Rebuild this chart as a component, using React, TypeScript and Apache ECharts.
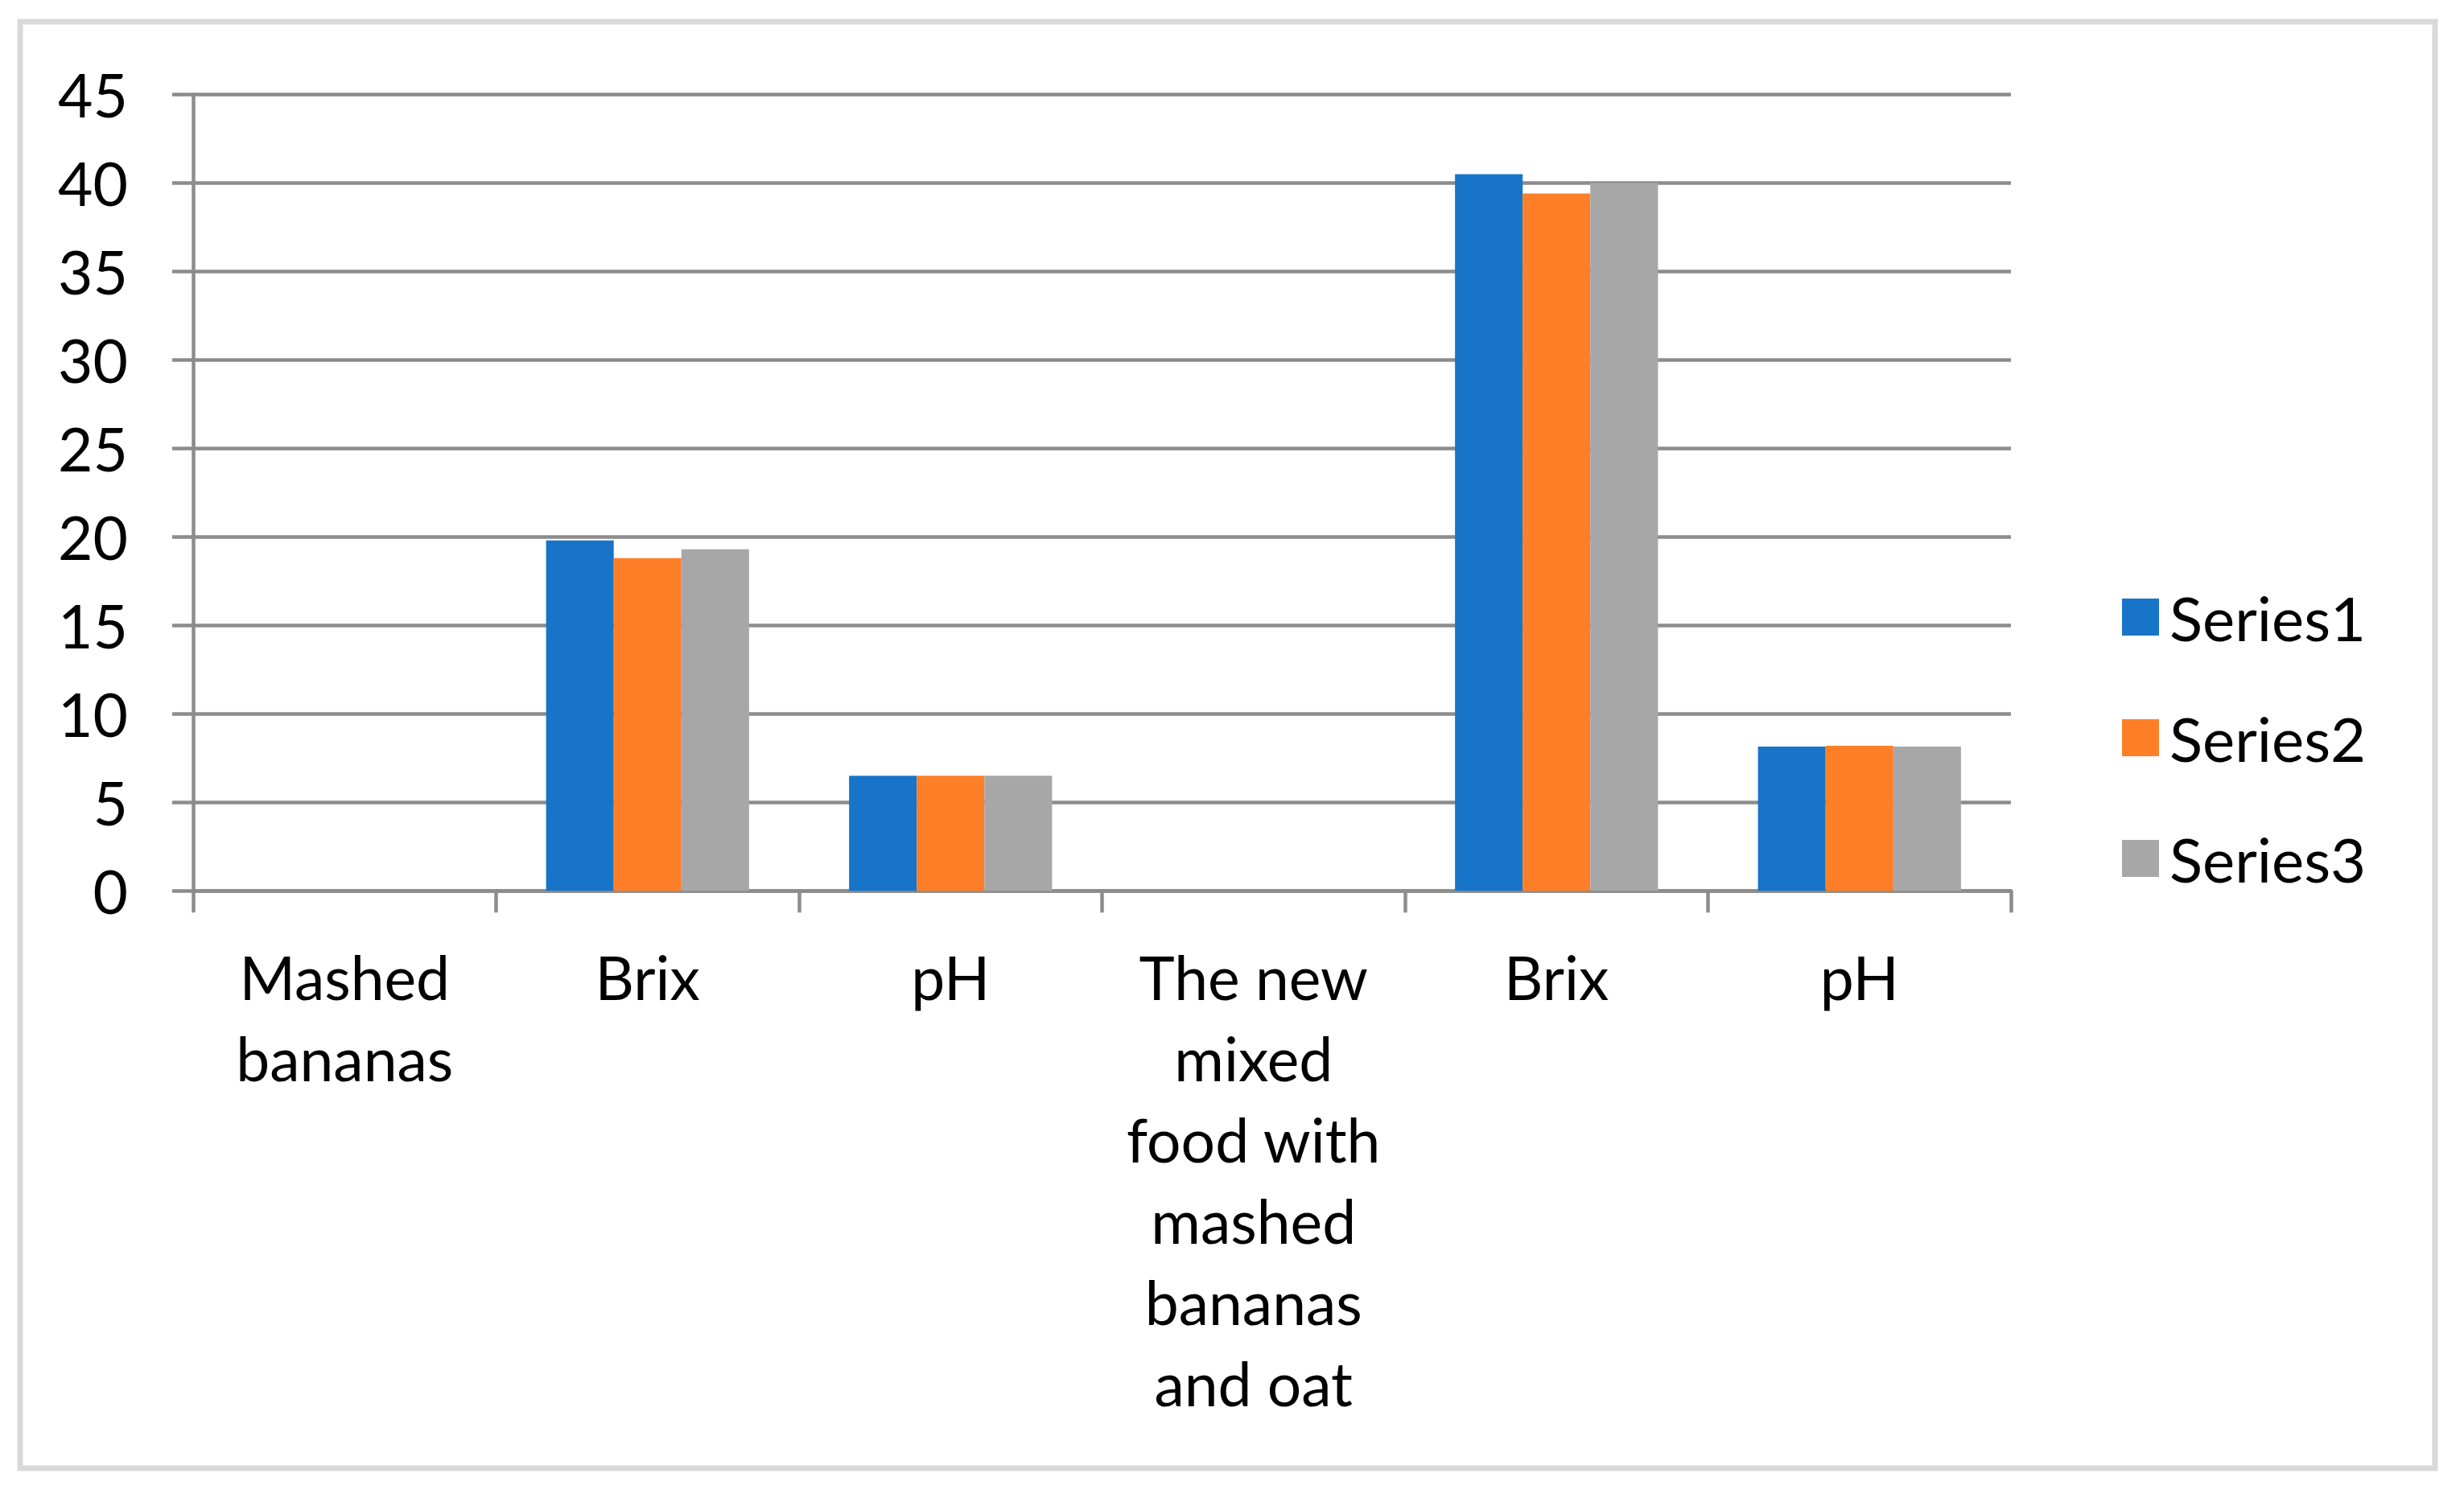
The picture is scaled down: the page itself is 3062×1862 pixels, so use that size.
import React, { useEffect, useRef } from "react";
import * as echarts from "echarts";

const categories = [
  "Mashed\nbananas",
  "Brix",
  "pH",
  "The new\nmixed\nfood with\nmashed\nbananas\nand oat",
  "Brix",
  "pH",
];
const seriesNames = ["Series1", "Series2", "Series3"];
const series1 = [null, 19.8, 6.5, null, 40.5, 8.15];
const series2 = [null, 18.8, 6.5, null, 39.4, 8.2];
const series3 = [null, 19.3, 6.5, null, 40.0, 8.15];
const colors = ["#1874c8", "#fe7f27", "#a7a7a7"];
const yMin = 0;
const yMax = 45;
const yStep = 5;

const FONT = "Lato";

export default function App() {
  const ref = useRef<HTMLDivElement>(null);
  useEffect(() => {
    if (!ref.current) return;
    const chart = echarts.init(ref.current, undefined, { renderer: "svg" });
    const values = [series1, series2, series3];
    chart.setOption({
      animation: false,
      backgroundColor: "#ffffff",
      color: colors,
      textStyle: { fontFamily: FONT },
      graphic: [
        {
          type: "rect",
          shape: { x: 25, y: 27, width: 3001, height: 1798 },
          style: { fill: "none", stroke: "#d9d9d9", lineWidth: 7 },
          silent: true,
        },
      ],
      grid: { left: 240, right: 563, top: 117.4, bottom: 754.7, containLabel: false },
      legend: {
        orient: "vertical",
        left: 2632,
        top: 724,
        icon: "rect",
        itemWidth: 46,
        itemHeight: 46,
        itemGap: 74,
        data: seriesNames,
        textStyle: {
          fontFamily: FONT,
          fontSize: 76,
          color: "#000000",
          padding: [0, 0, 0, 8],
        },
      },
      xAxis: {
        type: "category",
        data: categories,
        axisLine: { show: true, lineStyle: { color: "#8c8c8c", width: 4.5 } },
        axisTick: { show: true, length: 27, lineStyle: { color: "#8c8c8c", width: 4.5 } },
        axisLabel: {
          interval: 0,
          margin: 56,
          fontFamily: FONT,
          fontSize: 75,
          lineHeight: 101,
          color: "#000000",
          align: "center",
        },
        splitLine: { show: false },
      },
      yAxis: {
        type: "value",
        min: yMin,
        max: yMax,
        interval: yStep,
        axisLine: { show: true, lineStyle: { color: "#8c8c8c", width: 4.5 } },
        axisTick: { show: true, length: 26, lineStyle: { color: "#8c8c8c", width: 4.5 } },
        axisLabel: {
          margin: 81,
          fontFamily: FONT,
          fontSize: 75,
          color: "#000000",
        },
        splitLine: { show: true, lineStyle: { color: "#8c8c8c", width: 4.5 } },
      },
      series: seriesNames.map((name, i) => ({
        name,
        type: "bar",
        data: values[i],
        barGap: "0%",
        barCategoryGap: "33%",
        itemStyle: { color: colors[i] },
      })),
    });
    return () => chart.dispose();
  }, []);
  return (
    <div
      ref={ref}
      style={{ position: "fixed", left: 0, top: 0, width: 3062, height: 1862, background: "#fff" }}
    />
  );
}
